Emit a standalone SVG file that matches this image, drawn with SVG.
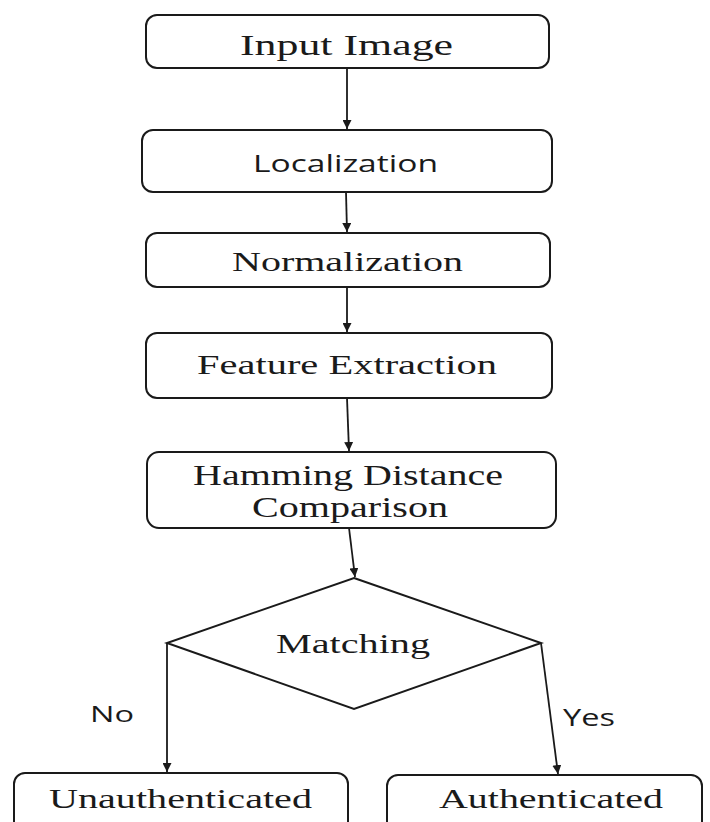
<svg xmlns="http://www.w3.org/2000/svg" width="710" height="822" viewBox="0 0 710 822">
<defs>
<style>
.box{fill:#fff;stroke:#1a1a1a;stroke-width:2}
.serif{font-family:"Liberation Serif","Times New Roman",serif;fill:#1a1a1a}
.sans{font-family:"Open Sans","Noto Sans",sans-serif;fill:#1a1a1a}
.edge{stroke:#1a1a1a;stroke-width:1.8;fill:none;marker-end:url(#ah)}
</style>
<marker id="ah" viewBox="0 0 10 10" refX="10" refY="5" markerWidth="9" markerHeight="9" markerUnits="userSpaceOnUse" orient="auto">
<path d="M0,0 L10,5 L0,10 z" fill="#1a1a1a"/>
</marker>
</defs>
<rect width="710" height="822" fill="#fff"/>
<g id="connectors">
<line class="edge" x1="347" y1="68" x2="347" y2="129"/>
<line class="edge" x1="346" y1="192" x2="347" y2="232"/>
<line class="edge" x1="347" y1="287" x2="347" y2="332"/>
<line class="edge" x1="347" y1="398" x2="349" y2="451"/>
<line class="edge" x1="349" y1="528" x2="355" y2="577"/>
<line class="edge" x1="167" y1="643" x2="167" y2="772"/>
<line class="edge" x1="541" y1="643" x2="558" y2="774"/>
<text class="sans" x="90" y="722" font-size="22" textLength="44" lengthAdjust="spacingAndGlyphs">No</text>
<text class="sans" x="563" y="726" font-size="23" textLength="52" lengthAdjust="spacingAndGlyphs">Yes</text>
</g>
<g id="input">
<rect class="box" x="146" y="15" width="403" height="53" rx="11"/>
<text class="serif" x="240" y="55" font-size="29" textLength="213" lengthAdjust="spacingAndGlyphs">Input Image</text>
</g>
<g id="localization">
<rect class="box" x="142" y="130" width="410" height="62" rx="11"/>
<text class="sans" x="253" y="172" font-size="24" textLength="185" lengthAdjust="spacingAndGlyphs">Localization</text>
</g>
<g id="normalization">
<rect class="box" x="146" y="233" width="404" height="54" rx="11"/>
<text class="serif" x="232" y="271" font-size="27" textLength="231" lengthAdjust="spacingAndGlyphs">Normalization</text>
</g>
<g id="feature">
<rect class="box" x="146" y="333" width="406" height="65" rx="11"/>
<text class="serif" x="197" y="374" font-size="28" textLength="300" lengthAdjust="spacingAndGlyphs">Feature Extraction</text>
</g>
<g id="hamming">
<rect class="box" x="147" y="452" width="409" height="76" rx="12"/>
<text class="serif" x="193" y="485" font-size="29" textLength="310" lengthAdjust="spacingAndGlyphs">Hamming Distance</text>
<text class="serif" x="252" y="517" font-size="29" textLength="196" lengthAdjust="spacingAndGlyphs">Comparison</text>
</g>
<g id="matching">
<polygon class="box" points="354,578 541,643 354,709 167,643"/>
<text class="serif" x="276" y="653" font-size="27" textLength="154" lengthAdjust="spacingAndGlyphs">Matching</text>
</g>
<g id="unauthenticated">
<rect class="box" x="14" y="773" width="334" height="70" rx="11"/>
<text class="serif" x="49" y="808" font-size="27" textLength="263" lengthAdjust="spacingAndGlyphs">Unauthenticated</text>
</g>
<g id="authenticated">
<rect class="box" x="387" y="775" width="315" height="70" rx="11"/>
<text class="serif" x="439" y="808" font-size="27" textLength="224" lengthAdjust="spacingAndGlyphs">Authenticated</text>
</g>
</svg>
